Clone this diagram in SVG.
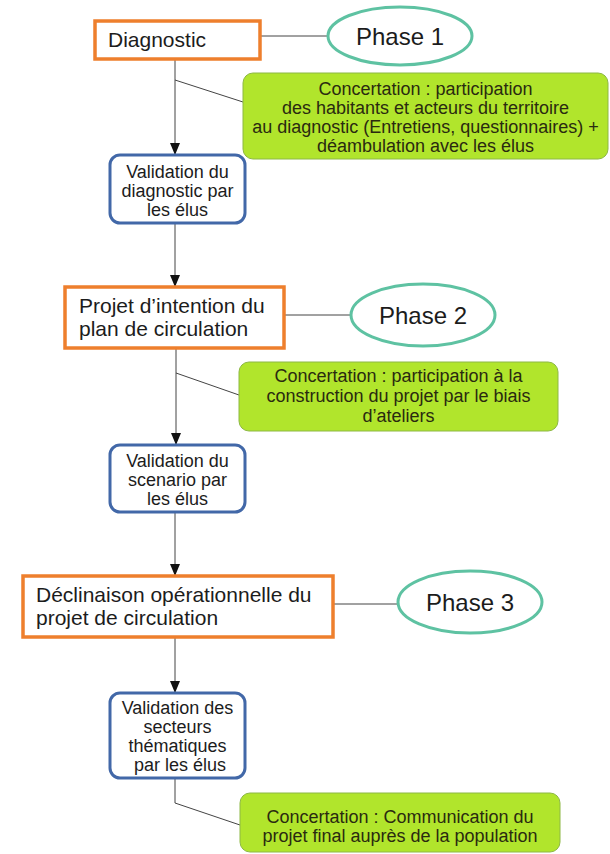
<svg xmlns="http://www.w3.org/2000/svg" width="610" height="854" viewBox="0 0 610 854">
<defs>
<marker id="arr" viewBox="0 0 12 10" refX="12" refY="5" markerWidth="12" markerHeight="10" markerUnits="userSpaceOnUse" orient="auto">
<path d="M0,0 L12,5 L0,10 z" fill="#111"/>
</marker>
<style>
.phase{fill:#fff;stroke:#5ec2a2;stroke-width:3}
.step{fill:#fff;stroke:#ee7f2d;stroke-width:3.5}
.valid{fill:#fff;stroke:#4268a8;stroke-width:3}
.conc{fill:#b1e52c;stroke:#8db845;stroke-width:1}
text{font-family:"Liberation Sans",Arial,sans-serif;fill:#1c1c1c}
.t-step{font-size:21px}
.t-phase{font-size:24px;text-anchor:middle}
.t-valid{font-size:18px;text-anchor:middle}
.t-conc{font-size:18px;text-anchor:middle;fill:#2a2a10}
.ln{fill:none;stroke:#444;stroke-width:1}
</style>
</defs>
<rect width="610" height="854" fill="#fff"/>
<g id="connectors">
<line class="ln" x1="260" y1="36" x2="328" y2="36"/>
<line class="ln" x1="284" y1="315" x2="351" y2="315"/>
<line class="ln" x1="333" y1="604" x2="398" y2="604"/>
<line class="ln" x1="175" y1="59" x2="175" y2="155" marker-end="url(#arr)"/>
<line class="ln" x1="175" y1="223" x2="175" y2="287" marker-end="url(#arr)"/>
<line class="ln" x1="176" y1="348" x2="176" y2="445" marker-end="url(#arr)"/>
<line class="ln" x1="175" y1="512" x2="175" y2="576" marker-end="url(#arr)"/>
<line class="ln" x1="175" y1="637" x2="175" y2="693" marker-end="url(#arr)"/>
<line class="ln" x1="175" y1="80" x2="243" y2="102"/>
<line class="ln" x1="176" y1="373" x2="239" y2="395"/>
<polyline class="ln" points="175,778 175,803 240,825"/>
</g>
<g id="diagnostic">
<rect class="step" x="95" y="21" width="165" height="38"/>
<text class="t-step" x="108" y="47">Diagnostic</text>
</g>
<g id="phase1">
<ellipse class="phase" cx="400" cy="36" rx="72" ry="29"/>
<text class="t-phase" x="400" y="44.5">Phase 1</text>
</g>
<g id="concertation1">
<rect class="conc" x="243" y="73" width="365" height="86" rx="10"/>
<text class="t-conc" x="425.5" y="95">Concertation : participation</text>
<text class="t-conc" x="425.5" y="114">des habitants et acteurs du territoire</text>
<text class="t-conc" x="425.5" y="133">au diagnostic (Entretiens, questionnaires) +</text>
<text class="t-conc" x="425.5" y="152">déambulation avec les élus</text>
</g>
<g id="validation1">
<rect class="valid" x="110" y="155" width="135" height="68" rx="10"/>
<text class="t-valid" x="177.5" y="178">Validation du</text>
<text class="t-valid" x="177.5" y="197">diagnostic par</text>
<text class="t-valid" x="177.5" y="216">les élus</text>
</g>
<g id="projet">
<rect class="step" x="65" y="287" width="219" height="61"/>
<text class="t-step" x="79" y="313">Projet d’intention du</text>
<text class="t-step" x="79" y="336">plan de circulation</text>
</g>
<g id="phase2">
<ellipse class="phase" cx="423" cy="315" rx="72" ry="31"/>
<text class="t-phase" x="423" y="323.5">Phase 2</text>
</g>
<g id="concertation2">
<rect class="conc" x="239" y="362" width="319" height="69" rx="10"/>
<text class="t-conc" x="398.5" y="382">Concertation : participation à la</text>
<text class="t-conc" x="398.5" y="402">construction du projet par le biais</text>
<text class="t-conc" x="398.5" y="422">d’ateliers</text>
</g>
<g id="validation2">
<rect class="valid" x="110" y="445" width="135" height="67" rx="10"/>
<text class="t-valid" x="177.5" y="467">Validation du</text>
<text class="t-valid" x="177.5" y="486">scenario par</text>
<text class="t-valid" x="177.5" y="505">les élus</text>
</g>
<g id="declinaison">
<rect class="step" x="23" y="576" width="310" height="61"/>
<text class="t-step" x="36" y="602">Déclinaison opérationnelle du</text>
<text class="t-step" x="36" y="625">projet de circulation</text>
</g>
<g id="phase3">
<ellipse class="phase" cx="470" cy="602" rx="72" ry="31"/>
<text class="t-phase" x="470" y="610.5">Phase 3</text>
</g>
<g id="validation3">
<rect class="valid" x="110" y="693" width="135" height="85" rx="10"/>
<text class="t-valid" x="177.5" y="714">Validation des</text>
<text class="t-valid" x="177.5" y="733">secteurs</text>
<text class="t-valid" x="177.5" y="752">thématiques</text>
<text class="t-valid" x="180" y="771">par les élus</text>
</g>
<g id="concertation3">
<rect class="conc" x="240" y="793" width="320" height="59" rx="10"/>
<text class="t-conc" x="400" y="823">Concertation : Communication du</text>
<text class="t-conc" x="400" y="842">projet final auprès de la population</text>
</g>
</svg>
